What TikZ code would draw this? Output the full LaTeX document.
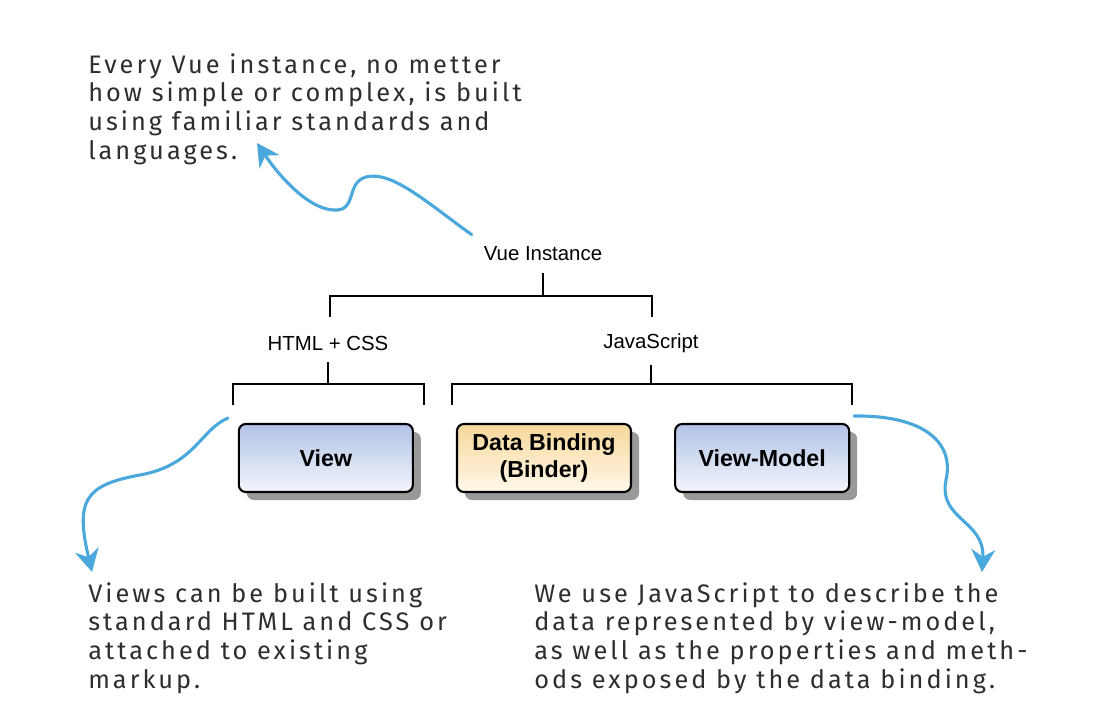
\documentclass[tikz,border=0pt]{standalone}
\usepackage{fontspec}
\setmainfont{Liberation Sans}
\newfontfamily\handfont[LetterSpace=12]{Fira Sans}
\usetikzlibrary{positioning,arrows.meta,shadows}
\definecolor{notearrow}{HTML}{4AA8DC}
\definecolor{notetext}{HTML}{2E2E2E}
\definecolor{viewtop}{HTML}{B0C2E6}
\definecolor{viewbottom}{HTML}{F4F6FC}
\definecolor{bindtop}{HTML}{F7D79A}
\definecolor{bindbottom}{HTML}{FFF8EA}
\tikzset{
  tierlabel/.style={font=\fontsize{14.5}{17}\selectfont, inner sep=8.5pt},
  bracket/.style={line width=1.5pt},
  layerbox/.style={draw=black, line width=1.5pt, rounded corners=5pt,
    minimum width=4.35cm, minimum height=1.7cm, align=center,
    font=\fontsize{16.5}{19}\selectfont\bfseries,
    drop shadow={shadow xshift=0.2cm, shadow yshift=-0.2cm, fill=black!40, opacity=1}},
  viewfill/.style={top color=viewtop, bottom color=viewbottom},
  bindfill/.style={top color=bindtop, bottom color=bindbottom},
  note/.style={font=\handfont\fontsize{18}{20.6}\selectfont, text=notetext,
    align=left, anchor=north west, inner sep=0pt},
  callout/.style={draw=notearrow, line width=2.2pt, line cap=round,
    -{Stealth[length=16pt,width=17pt]}}
}
\begin{document}
\begin{tikzpicture}[x=0.025cm,y=-0.025cm]
  \useasboundingbox[fill=white] (0,0) rectangle (1104,728);
  % tiers
  \node[tierlabel] (vue) at (543,254) {Vue Instance};
  \node[tierlabel] (html) at (328,343) {HTML + CSS};
  \node[tierlabel] (js) at (651,343) {JavaScript};
  % layers
  \node[layerbox, bindfill] (bind) at (544,458) {Data Binding\\(Binder)};
  \node[layerbox, viewfill, left=1.05cm of bind] (view) {View};
  \node[layerbox, viewfill, right=1.05cm of bind] (vm) {View-Model};
  % brackets
  \coordinate (vue bar) at (543,296);
  \coordinate (html bar) at (328,384);
  \coordinate (js bar) at (651,384);
  \draw[bracket] (vue.south) -- (vue bar);
  \draw[bracket] (330,317) |- (vue bar) -| (652,317);
  \draw[bracket] (html.south) -- (html bar);
  \draw[bracket] (233,405) |- (html bar) -| (424,405);
  \draw[bracket] (js.south) -- (js bar);
  \draw[bracket] (452,405) |- (js bar) -| (852,405);
  % notes
  \node[note] (vue note) at (88,53) {Every Vue instance, no metter\\how simple or complex, is built\\using familiar standards and\\languages.};
  \node[note] (view note) at (88,582) {Views can be built using\\standard HTML and CSS or\\attached to existing\\markup.};
  \node[note] (js note) at (534,582) {We use JavaScript to describe the\\data represented by view-model,\\as well as the properties and meth-\\ods exposed by the data binding.};
  % callouts
  \coordinate (vue tip) at (257,143);
  \coordinate (view start) at (228,418);
  \coordinate (view tip) at (92,572);
  \coordinate (vm start) at (854,416);
  \coordinate (vm tip) at (982,572);
  \draw[callout] (vue.north west) .. controls (430,205) and (392,170) .. (366,177)
    .. controls (345,183) and (358,212) .. (333,210)
    .. controls (305,208) and (275,170) .. (vue tip);
  \draw[callout] (view start) .. controls (200,430) and (195,465) .. (140,475)
    .. controls (85,485) and (75,500) .. (view tip);
  \draw[callout] (vm start) .. controls (920,415) and (955,440) .. (946,480)
    .. controls (938,520) and (985,520) .. (vm tip);
\end{tikzpicture}
\end{document}
